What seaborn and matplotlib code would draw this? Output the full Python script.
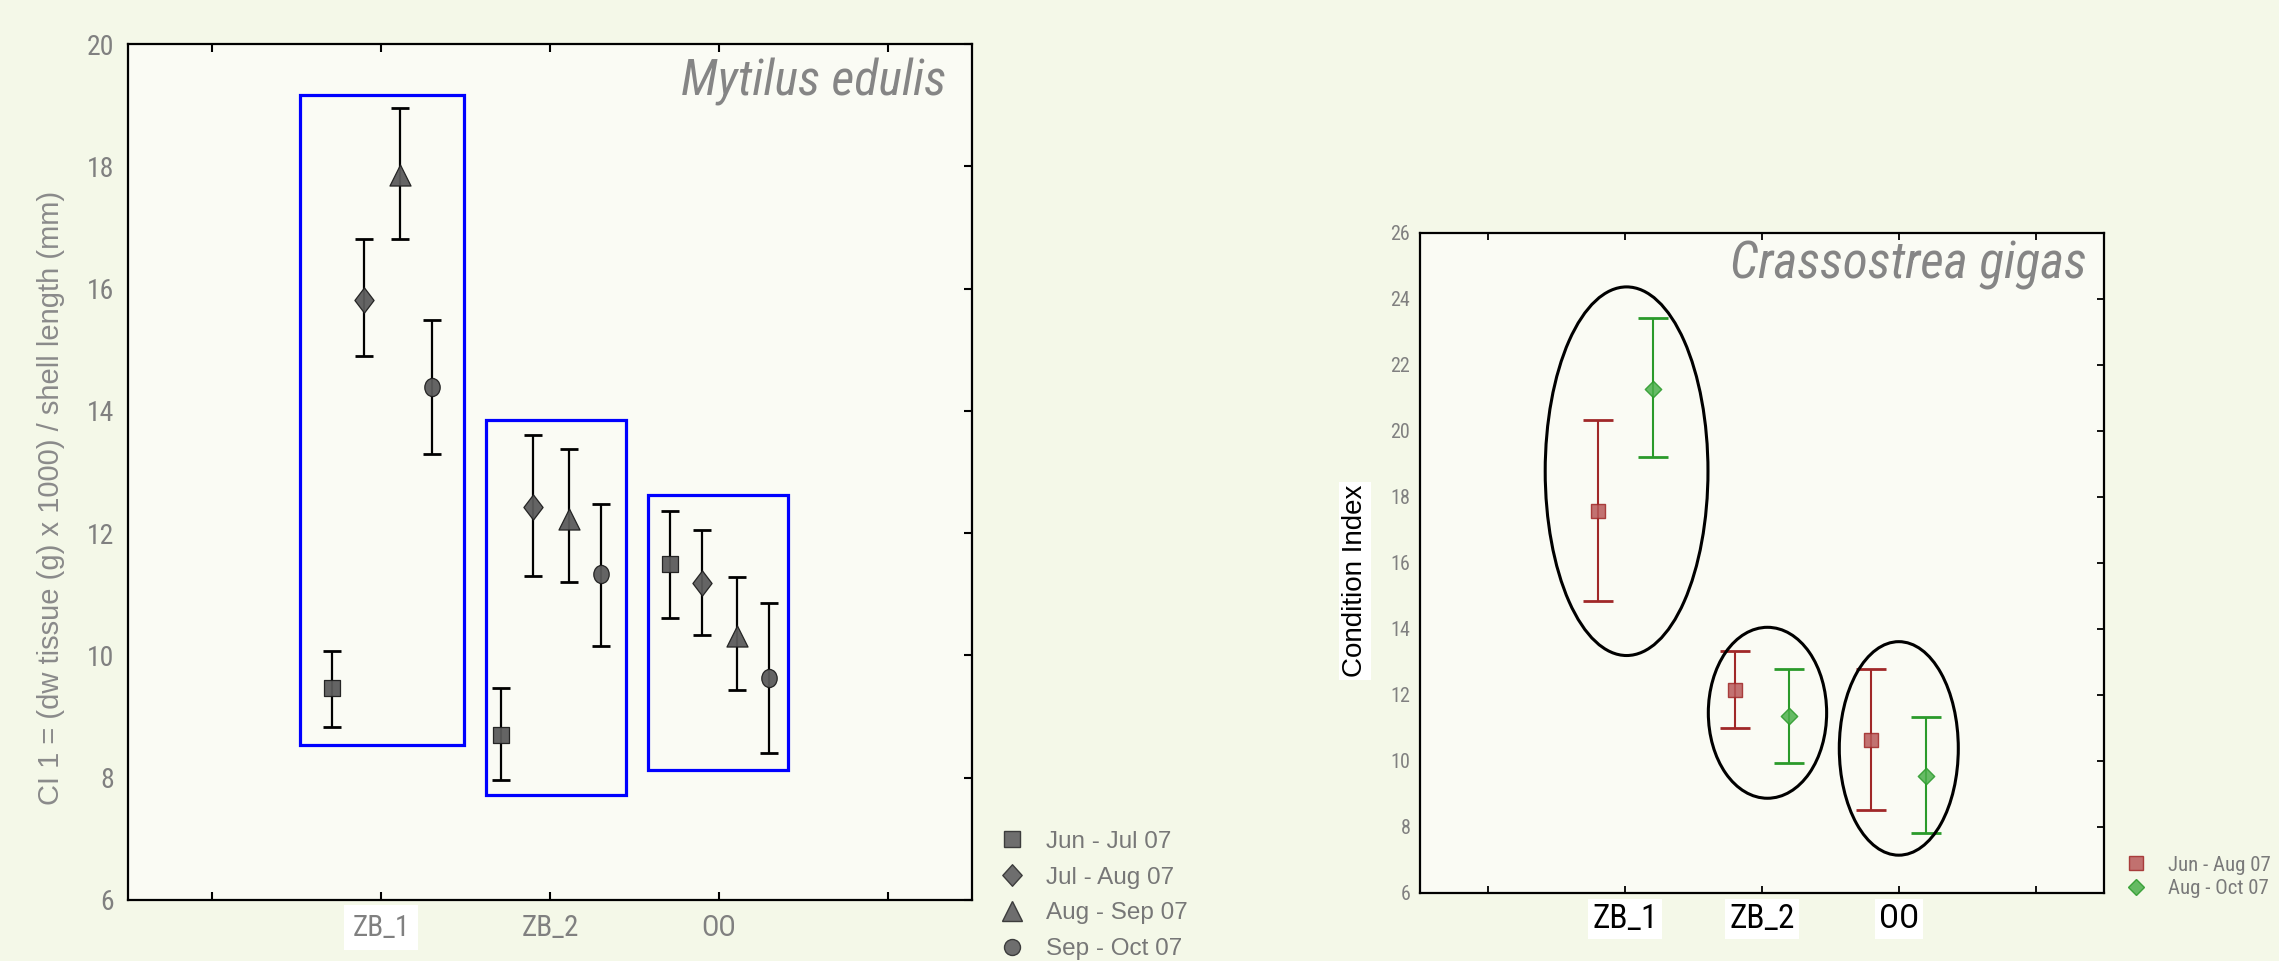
import numpy as np
import pandas as pd
import matplotlib
matplotlib.use("Agg")
import matplotlib.pyplot as plt
import seaborn as sns
from matplotlib.patches import Rectangle, Ellipse
from matplotlib.path import Path
from matplotlib.lines import Line2D
from matplotlib import font_manager

# ---------------- data ----------------
sites = ["ZB_1", "ZB_2", "OO"]

# Mytilus edulis, CI 1 (mean, lower, upper)
mytilus_periods = ["Jun - Jul 07", "Jul - Aug 07", "Aug - Sep 07", "Sep - Oct 07"]
mytilus_mean = [[9.47, 8.70, 11.50], [15.82, 12.42, 11.18], [17.86, 12.23, 10.31], [14.39, 11.33, 9.63]]
mytilus_low = [[8.83, 7.96, 10.62], [14.89, 11.30, 10.33], [16.81, 11.20, 9.44], [13.29, 10.16, 8.41]]
mytilus_high = [[10.07, 9.47, 12.37], [16.81, 13.60, 12.05], [18.96, 13.38, 11.28], [15.49, 12.48, 10.86]]

# Crassostrea gigas, Condition Index (mean, lower, upper)
gigas_periods = ["Jun - Aug 07", "Aug - Oct 07"]
gigas_mean = [[17.57, 12.14, 10.64], [21.27, 11.35, 9.53]]
gigas_low = [[14.85, 10.99, 8.51], [19.22, 9.94, 7.82]]
gigas_high = [[20.33, 13.32, 12.79], [23.42, 12.79, 11.33]]

# group outlines (data units)
mytilus_boxes = [(-0.48, 0.49, 8.54, 19.16), (0.62, 1.45, 7.72, 13.85), (1.58, 2.41, 8.13, 12.62)]
gigas_ellipses = [(0.01, 18.78, 1.19, 11.17), (1.04, 11.46, 0.865, 5.18), (2.0, 10.38, 0.87, 6.47)]

# ---------------- style ----------------
sns.set_theme(style="white")
names = {f.name for f in font_manager.fontManager.ttflist}
NARROW = next((n for n in ("Roboto Condensed", "IBM Plex Sans Condensed", "DejaVu Sans") if n in names), "DejaVu Sans")
REG = "Liberation Sans" if "Liberation Sans" in names else "DejaVu Sans"
plt.rcParams["font.family"] = [REG, "DejaVu Sans"]

FIG_BG = "#f4f8e8"
AX_BG = "#fafbf4"
GRAY = "#808080"

diamond_tall = Path([(0, 1), (0.76, 0), (0, -1), (-0.76, 0), (0, 1)],
                    [Path.MOVETO, Path.LINETO, Path.LINETO, Path.LINETO, Path.CLOSEPOLY])
diamond_leg = Path([(0, 1), (0.9, 0), (0, -1), (-0.9, 0), (0, 1)],
                   [Path.MOVETO, Path.LINETO, Path.LINETO, Path.LINETO, Path.CLOSEPOLY])
oval = Path.unit_circle().transformed(matplotlib.transforms.Affine2D().scale(0.85, 1.0))

fig = plt.figure(figsize=(22.79, 9.61), dpi=100, facecolor=FIG_BG)
ax1 = fig.add_axes([0.0562, 0.0635, 0.3703, 0.8907])
ax2 = fig.add_axes([0.6231, 0.0708, 0.3001, 0.6868])

for ax in (ax1, ax2):
    ax.set_facecolor(AX_BG)
    for sp in ax.spines.values():
        sp.set_color("black")
        sp.set_linewidth(1.6)
        sp.set_visible(True)

# ---------------- left: Mytilus ----------------
m_offsets = [-0.29, -0.10, 0.11, 0.30]
m_markers = ["s", diamond_tall, "^", oval]
m_sizes = [135, 330, 230, 170]
base = np.arange(len(sites))
for i, period in enumerate(mytilus_periods):
    mean = np.array(mytilus_mean[i]); lo = np.array(mytilus_low[i]); hi = np.array(mytilus_high[i])
    x = base + m_offsets[i]
    ax1.errorbar(x, mean, yerr=[mean - lo, hi - mean], fmt="none", ecolor="black",
                 elinewidth=1.6, capsize=6.5, capthick=2.0, zorder=2)
    df = pd.DataFrame({"x": x, "CI": mean, "period": period})
    sns.scatterplot(data=df, x="x", y="CI", marker=m_markers[i], s=m_sizes[i],
                    color="#5c5c5c", edgecolor="#1e1e1e", linewidth=0.9, alpha=0.95,
                    legend=False, ax=ax1, zorder=3)

for (x0, x1, y0, y1) in mytilus_boxes:
    ax1.add_patch(Rectangle((x0, y0), x1 - x0, y1 - y0, fill=False, edgecolor="#0000ff",
                            linewidth=2.3, zorder=4))

ax1.set_xlim(-1.5, 3.5)
ax1.set_ylim(6, 20)
ax1.set_xticks([-1, 0, 1, 2, 3])
ax1.set_xticklabels(["", "ZB_1", "ZB_2", "OO", ""])
ax1.set_yticks(np.arange(6, 21, 2))
ax1.set_xlabel("")
ax1.set_ylabel("")
ax1.tick_params(axis="both", direction="in", length=6, width=1.5, color="black",
                top=True, right=True, bottom=True, left=False,
                labelcolor=GRAY, pad=10)
ax1.tick_params(axis="y", labelsize=20)
ax1.tick_params(axis="x", labelsize=21)
for lab in ax1.get_xticklabels() + ax1.get_yticklabels():
    lab.set_family(NARROW)
ax1.get_xticklabels()[1].set_bbox(dict(facecolor="white", edgecolor="none", pad=6))

ax1.text(0.969, 0.984, "Mytilus edulis", transform=ax1.transAxes, ha="right", va="top",
         fontsize=36, style="italic", color="#858585", family=NARROW)
ax1.text(-0.0918, 0.47, "CI 1 = (dw tissue (g) x 1000) / shell length (mm)",
         transform=ax1.transAxes, rotation=90, ha="center", va="center",
         fontsize=21, color="#8a8a8a")

m_handles = [
    Line2D([], [], linestyle="none", marker="s", markersize=11.5, markerfacecolor="#6e6e6e", markeredgecolor="#3c3c3c"),
    Line2D([], [], linestyle="none", marker=diamond_leg, markersize=15.5, markerfacecolor="#6e6e6e", markeredgecolor="#3c3c3c"),
    Line2D([], [], linestyle="none", marker="^", markersize=14.5, markerfacecolor="#6e6e6e", markeredgecolor="#3c3c3c"),
    Line2D([], [], linestyle="none", marker="o", markersize=11.5, markerfacecolor="#6e6e6e", markeredgecolor="#3c3c3c"),
]
leg1 = fig.legend(m_handles, mytilus_periods, loc="upper left", bbox_to_anchor=(1000 / 2279, 0.1354),
                  frameon=False, borderpad=0, borderaxespad=0, handlelength=1.0, handletextpad=0.9,
                  labelspacing=0.565, prop={"family": REG, "size": 17.5})
for t in leg1.get_texts():
    t.set_color("#777777")

# ---------------- right: Crassostrea ----------------
g_offsets = [-0.2, 0.2]
g_markers = ["s", "D"]
g_sizes = [110, 70]
g_line = ["#a02828", "#2a9a2a"]
g_face = ["#b85a5a", "#4cb04c"]
for i, period in enumerate(gigas_periods):
    mean = np.array(gigas_mean[i]); lo = np.array(gigas_low[i]); hi = np.array(gigas_high[i])
    x = base + g_offsets[i]
    ax2.errorbar(x, mean, yerr=[mean - lo, hi - mean], fmt="none", ecolor=g_line[i],
                 elinewidth=1.5, capsize=11, capthick=2.0, zorder=2)
    df = pd.DataFrame({"x": x, "CI": mean, "period": period})
    sns.scatterplot(data=df, x="x", y="CI", marker=g_markers[i], s=g_sizes[i],
                    color=g_face[i], edgecolor=g_line[i], linewidth=1.0, alpha=0.85,
                    legend=False, ax=ax2, zorder=3)

for (cx, cy, w, h) in gigas_ellipses:
    ax2.add_patch(Ellipse((cx, cy), w, h, fill=False, edgecolor="black", linewidth=2.2, zorder=4))

ax2.set_xlim(-1.5, 3.5)
ax2.set_ylim(6, 26)
ax2.set_xticks([-1, 0, 1, 2, 3])
ax2.set_xticklabels(["", "ZB_1", "ZB_2", "OO", ""])
ax2.set_yticks(np.arange(6, 27, 2))
ax2.set_xlabel("")
ax2.set_ylabel("")
ax2.tick_params(axis="both", direction="in", length=5, width=1.3, color="black",
                top=True, right=True, bottom=True, left=False, pad=7)
ax2.tick_params(axis="y", labelsize=14.5, labelcolor=GRAY)
ax2.tick_params(axis="x", labelsize=24, labelcolor="black", pad=7)
for lab in ax2.get_xticklabels() + ax2.get_yticklabels():
    lab.set_family(NARROW)
for lab in ax2.get_xticklabels():
    lab.set_bbox(dict(facecolor="white", edgecolor="none", pad=3))

ax2.text(0.975, 0.99, "Crassostrea gigas", transform=ax2.transAxes, ha="right", va="top",
         fontsize=37, style="italic", color="#858585", family=NARROW)
ax2.text(-0.095, 0.473, "Condition Index", transform=ax2.transAxes, rotation=90,
         ha="center", va="center", fontsize=20, color="black",
         bbox=dict(facecolor="white", edgecolor="none", pad=2))

g_handles = [
    Line2D([], [], linestyle="none", marker="s", markersize=10, markerfacecolor=g_face[0], markeredgecolor=g_line[0], alpha=0.85),
    Line2D([], [], linestyle="none", marker="D", markersize=8, markerfacecolor=g_face[1], markeredgecolor=g_line[1], alpha=0.85),
]
leg2 = fig.legend(g_handles, gigas_periods, loc="upper left", bbox_to_anchor=(2126 / 2279, 0.1095),
                  frameon=False, borderpad=0, borderaxespad=0, handlelength=1.0, handletextpad=1.0,
                  labelspacing=0.22, prop={"family": NARROW, "size": 15})
for t in leg2.get_texts():
    t.set_color("#7a7a7a")

fig.savefig("out.png", dpi=100, facecolor=FIG_BG)
